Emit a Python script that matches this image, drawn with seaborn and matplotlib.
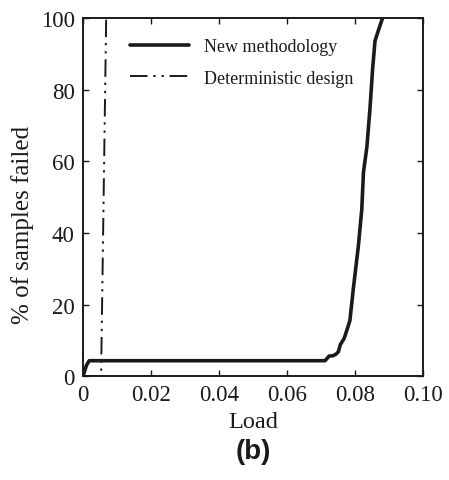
import matplotlib
matplotlib.use("Agg")
import matplotlib.pyplot as plt
import seaborn as sns
import pandas as pd

# New methodology curve (load, % failed)
new_load = [0.0, 0.0005, 0.0010, 0.0018, 0.0300, 0.0600, 0.0712, 0.0724, 0.0736,
            0.0745, 0.0751, 0.0757, 0.0762, 0.0768, 0.0776, 0.0785, 0.0795,
            0.0810, 0.0820, 0.0825, 0.0835, 0.0844, 0.0852, 0.0859, 0.0872, 0.0881]
new_pct = [0.0, 1.5, 3.0, 4.3, 4.3, 4.3, 4.3, 5.6, 5.7,
           6.2, 6.8, 8.8, 9.6, 10.5, 12.8, 15.5, 24.3,
           36.4, 46.6, 57.0, 64.0, 74.6, 86.0, 93.7, 97.5, 100.0]

# Deterministic design curve
det_load = [0.0, 0.0053, 0.0068]
det_pct = [0.0, 0.0, 100.0]

x_ticks = [0, 0.02, 0.04, 0.06, 0.08, 0.10]
x_tick_labels = ["0", "0.02", "0.04", "0.06", "0.08", "0.10"]
y_ticks = [0, 20, 40, 60, 80, 100]

sns.set_theme(style="ticks")
plt.rcParams['font.family'] = ['Liberation Serif', 'DejaVu Serif']

df_new = pd.DataFrame({"load": new_load, "pct": new_pct})
df_det = pd.DataFrame({"load": det_load, "pct": det_pct})

fig = plt.figure(figsize=(4.49, 4.81), dpi=100)
ax = fig.add_axes([0.185, 0.216, 0.757, 0.744])

sns.lineplot(data=df_new, x="load", y="pct", sort=False, ax=ax, color="#1a1a1a",
             linewidth=2.6, label="New methodology")
sns.lineplot(data=df_det, x="load", y="pct", sort=False, ax=ax, color="#1a1a1a",
             linewidth=1.4, label="Deterministic design",
             dashes=False)
ax.lines[1].set_dashes([9, 3, 1.2, 3, 1.2, 3])

ax.set_xlim(0, 0.10)
ax.set_ylim(0, 100)
ax.set_xticks(x_ticks)
ax.set_xticklabels(x_tick_labels)
ax.set_yticks(y_ticks)
ax.tick_params(direction="in", top=True, right=True, labelsize=16.5, length=4,
               width=1, colors="#1a1a1a", pad=6)
for s in ax.spines.values():
    s.set_linewidth(1.4)
    s.set_color("#1a1a1a")

ax.set_xlabel("Load", fontsize=17.5, color="#1a1a1a", labelpad=4)
ax.set_ylabel("% of samples failed", fontsize=18, color="#1a1a1a")
ax.yaxis.set_label_coords(-0.145, 0.425)

leg = ax.legend(loc="upper left", bbox_to_anchor=(0.09, 0.99), frameon=False,
                fontsize=13, handlelength=3.3, handletextpad=0.8, labelspacing=0.8)
for t in leg.get_texts():
    t.set_color("#1a1a1a")

fig.text(0.5 * (0.185 + 0.942), 1 - 452 / 481, "(b)", ha="center", va="center",
         fontsize=20, fontweight="bold", family=["Liberation Sans", "DejaVu Sans"],
         color="#1a1a1a")

fig.savefig("out.png", dpi=100)
